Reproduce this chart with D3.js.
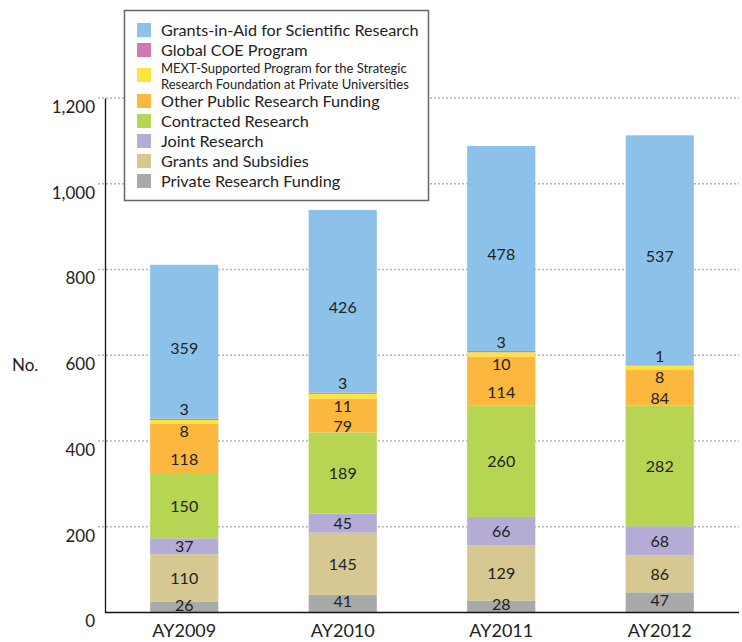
<!DOCTYPE html>
<html>
<head>
<meta charset="utf-8">
<script src="https://cdn.jsdelivr.net/npm/d3@7/dist/d3.min.js"></script>
<style>
  html, body { margin: 0; padding: 0; background: #fff; }
  svg { display: block; font-family: "Lato", "Open Sans", sans-serif; }
</style>
</head>
<body>
<svg id="chart" width="742" height="642"></svg>
<script>
// Fiscal years on the x axis
const years = ["AY2009", "AY2010", "AY2011", "AY2012"];

// Funding sources, bottom of the stack first
const seriesNames = [
  "Private Research Funding",
  "Grants and Subsidies",
  "Joint Research",
  "Contracted Research",
  "Other Public Research Funding",
  "MEXT-Supported Program for the Strategic Research Foundation at Private Universities",
  "Global COE Program",
  "Grants-in-Aid for Scientific Research"
];

// Number of projects per source and year
const privateFunding   = [26, 41, 28, 47];
const grantsSubsidies  = [110, 145, 129, 86];
const jointResearch    = [37, 45, 66, 68];
const contracted       = [150, 189, 260, 282];
const otherPublic      = [118, 79, 114, 84];
const mextStrategic    = [8, 11, 10, 8];
const globalCOE        = [3, 3, 3, 1];
const grantsInAid      = [359, 426, 478, 537];

const seriesValues = [privateFunding, grantsSubsidies, jointResearch, contracted,
                      otherPublic, mextStrategic, globalCOE, grantsInAid];

const colors = ["#a8aaa9", "#d6c890", "#b5acd5", "#b5d553", "#fbb73e", "#fde43c", "#cf7ab2", "#8cc2ea"];

const yTicks = [0, 200, 400, 600, 800, 1000, 1200];

// Legend lists the sources top of stack first
const legendOrder = [7, 6, 5, 4, 3, 2, 1, 0];

const svg = d3.select("#chart");

const plotLeft = 105, plotRight = 739, plotTop = 98, plotBottom = 612.5;

const x = d3.scaleBand().domain(years).range([plotLeft, plotRight])
  .paddingInner(0.57).paddingOuter(0.285);
const y = d3.scaleLinear().domain([0, 1200]).range([plotBottom, plotTop]);

// Build stack rows
const rows = years.map((yr, i) => {
  const r = { year: yr };
  seriesNames.forEach((n, k) => { r[n] = seriesValues[k][i]; });
  return r;
});
const stacked = d3.stack().keys(seriesNames)(rows);

// Dotted gridlines
svg.append("g").selectAll("line").data(yTicks.filter(t => t > 0)).join("line")
  .attr("x1", 98).attr("x2", plotRight)
  .attr("y1", d => y(d)).attr("y2", d => y(d))
  .attr("stroke", "#b4b4b4").attr("stroke-width", 1.3)
  .attr("stroke-dasharray", "2,2");

// Y axis; tick labels sit a little below their gridline
const yAxis = svg.append("g").attr("transform", `translate(${plotLeft},0)`)
  .call(d3.axisLeft(y).tickValues(yTicks).tickSize(0).tickPadding(10)
    .tickFormat(d3.format(",")));
yAxis.select(".domain").attr("stroke", "#111").attr("stroke-width", 1.3);
yAxis.selectAll("text").attr("font-size", 17).attr("fill", "#222")
  .attr("font-family", "Lato, sans-serif")
  .attr("y", 9);

svg.append("text").attr("x", 12).attr("y", y(600) + 16)
  .attr("font-size", 17).attr("fill", "#222").text("No.");

// Bars
const layers = svg.append("g").selectAll("g").data(stacked).join("g")
  .attr("fill", (d, i) => colors[i]);
layers.selectAll("rect").data(d => d).join("rect")
  .attr("x", d => x(d.data.year))
  .attr("width", x.bandwidth())
  .attr("y", d => y(d[1]))
  .attr("height", d => y(d[0]) - y(d[1]));

// X axis
const xAxis = svg.append("g").attr("transform", `translate(0,${plotBottom})`)
  .call(d3.axisBottom(x).tickSize(0).tickPadding(12));
xAxis.select(".domain").attr("stroke", "#111").attr("stroke-width", 1.5)
  .attr("d", `M${plotLeft},0H${plotRight}`);
xAxis.selectAll("text").attr("font-size", 18).attr("fill", "#222")
  .attr("font-family", "Lato, sans-serif");

// Value labels
const labelG = svg.append("g").attr("font-size", 16).attr("fill", "#222")
  .attr("text-anchor", "middle");
stacked.forEach((layer, k) => {
  layer.forEach(d => {
    const top = y(d[1]), bot = y(d[0]);
    let cy = (top + bot) / 2;
    if (k === 5) cy = bot + 8;          // thin strategic-program band: label just below
    else if (k === 6) cy = top - 9;     // thin COE band: label just above
    else if (k === 4) cy = cy + 11;     // make room for the band label above
    else if (k === 7) cy = cy + 6;
    else if (k === 0) cy = cy - 2;
    labelG.append("text")
      .attr("x", x(d.data.year) + x.bandwidth() / 2)
      .attr("y", cy).attr("dy", "0.36em")
      .text(d[1] - d[0]);
  });
});

// Legend
const lg = svg.append("g");
lg.append("rect").attr("x", 124.5).attr("y", 10.5).attr("width", 304).attr("height", 190)
  .attr("fill", "#fff").attr("stroke", "#666").attr("stroke-width", 1.5);
const rowY = [30, 50, 75, 101, 121, 141, 161, 181];
legendOrder.forEach((k, i) => {
  const cy = rowY[i];
  lg.append("rect").attr("x", 137).attr("y", cy - 7).attr("width", 14).attr("height", 14)
    .attr("fill", colors[k]);
  if (k === 5) {
    lg.append("text").attr("x", 161).attr("y", cy - 7).attr("dy", "0.36em")
      .attr("font-size", 13).attr("fill", "#222")
      .text("MEXT-Supported Program for the Strategic");
    lg.append("text").attr("x", 161).attr("y", cy + 9).attr("dy", "0.36em")
      .attr("font-size", 13).attr("fill", "#222")
      .text("Research Foundation at Private Universities");
  } else {
    lg.append("text").attr("x", 161).attr("y", cy).attr("dy", "0.36em")
      .attr("font-size", 16.2).attr("fill", "#222").text(seriesNames[k]);
  }
});
</script>
</body>
</html>
